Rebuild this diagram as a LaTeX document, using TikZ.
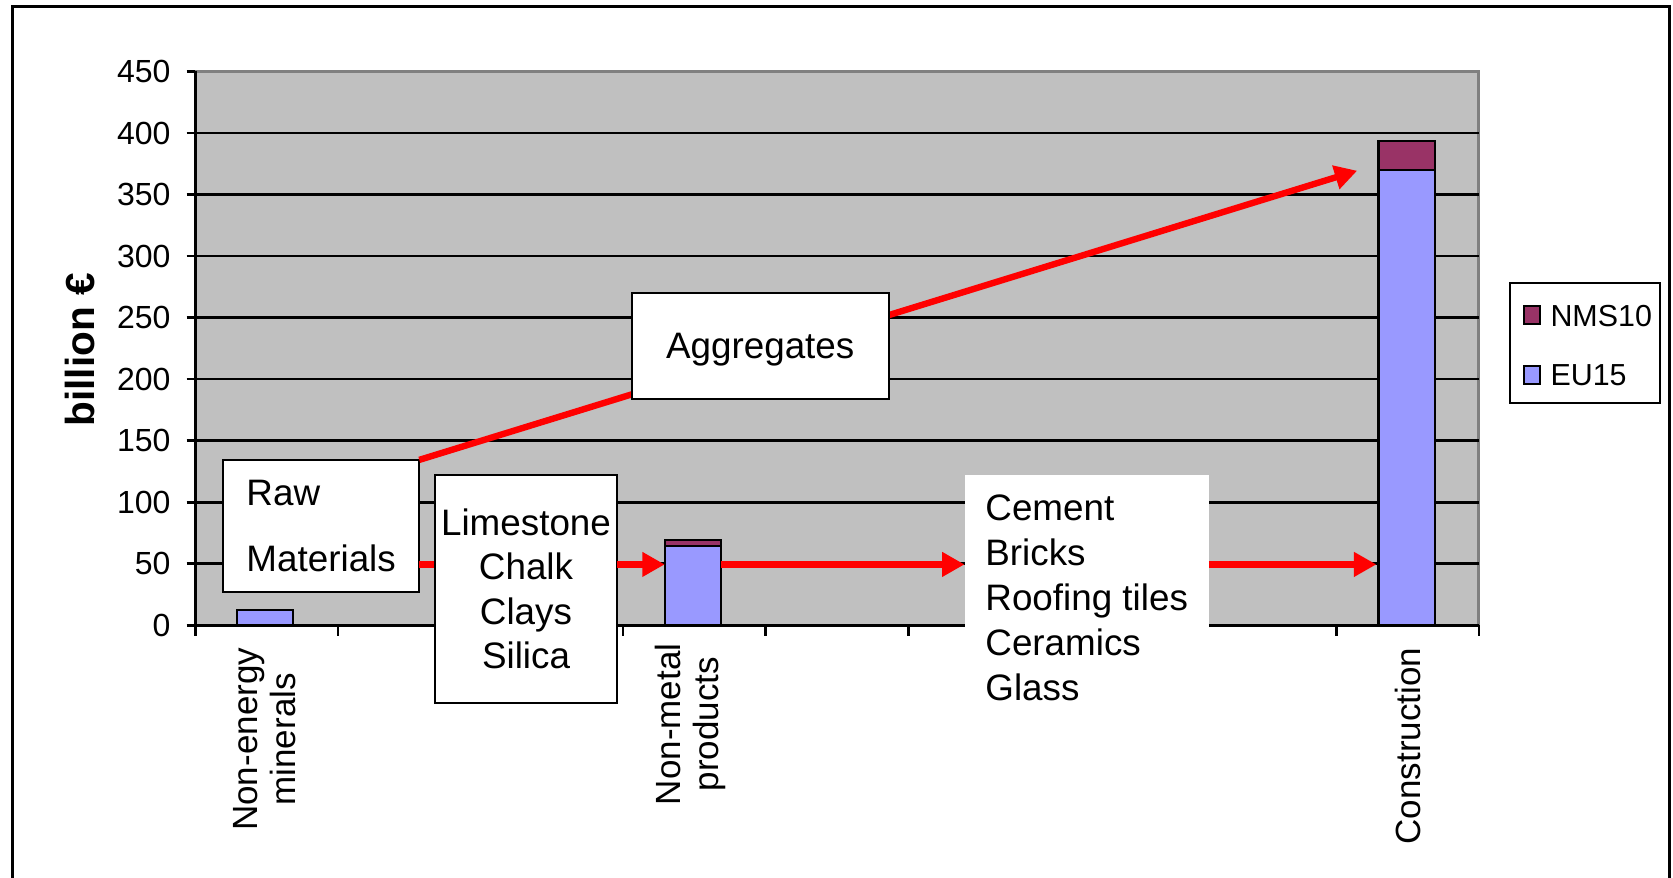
\documentclass[tikz,border=0pt]{standalone}
\usepackage{fontspec}
\setmainfont{Liberation Sans}
\usetikzlibrary{arrows.meta}
\definecolor{plotgrey}{HTML}{C0C0C0}
\definecolor{euc}{HTML}{9999FF}
\definecolor{nmsc}{HTML}{993366}
\definecolor{redc}{HTML}{FF0000}
\begin{document}
\begin{tikzpicture}[x=1pt,y=-1pt,
 box/.style={draw=black, line width=2pt, fill=white, inner sep=0pt, outer sep=0pt, font=\fontsize{34.5}{41.7}\selectfont},
 plainbox/.style={fill=white, inner sep=0pt, outer sep=0pt, font=\fontsize{34.5}{42.3}\selectfont},
 gridline/.style={line width=2.5pt},
 redline/.style={draw=redc, line width=6pt},
 redarrow/.style={redline, -{Triangle[length=21pt,width=22pt]}},
 bar/.style={draw=black, line width=2pt, inner sep=0pt, outer sep=0pt, minimum width=53pt, anchor=south},
 ticklab/.style={anchor=east, inner sep=0pt, font=\fontsize{30}{36}\selectfont},
 catlab/.style={rotate=90, anchor=east, align=center, inner sep=0pt, font=\fontsize{32.8}{35}\selectfont},
 leglab/.style={anchor=west, inner sep=0pt, font=\fontsize{28.5}{34}\selectfont},
 legsq/.style={draw=black, line width=2pt, inner sep=0pt, minimum width=15pt, minimum height=17pt}
]
\useasboundingbox (0,0) rectangle (1568,822);
% outer frame
\draw[line width=2.5pt] (12,830) -- (12,6) -- (1565,6) -- (1565,830);
% plot area
\fill[plotgrey] (183,67) rectangle (1386,586);
\draw[gray, line width=2.5pt] (183,67) -- (1386,67) -- (1386,586);
\foreach \v in {50,100,...,400} {
  \pgfmathsetmacro\yy{586-\v*1.153333}
  \draw[gridline] (183,\yy) -- (1386,\yy);
}
\draw[gridline] (183,67) -- (183,586) -- (1386,586);
\foreach \v in {0,50,...,450} {
  \pgfmathsetmacro\yy{586-\v*1.153333}
  \draw[gridline] (175,\yy) -- (183,\yy);
  \node[ticklab] (yl\v) at (160,\yy) {\v};
}
\foreach \k in {0,...,9} {
  \pgfmathsetmacro\xx{183+\k*133.667}
  \draw[gridline] (\xx,586) -- (\xx,596);
}
% bars
\node[bar, fill=euc, minimum height=14pt] (neEU) at (248.5,586) {};
\node[bar, fill=euc, minimum height=74pt] (nmEU) at (649.5,586) {};
\node[bar, fill=nmsc, minimum height=6pt] (nmNMS) at (nmEU.north) {};
\node[bar, fill=euc, minimum height=427pt] (coEU) at (1318.5,586) {};
\node[bar, fill=nmsc, minimum height=27pt] (coNMS) at (coEU.north) {};
% boxes
\coordinate (y50) at (0,529);
\coordinate (tip) at (1272,160);
\node[box, minimum width=184pt, minimum height=124pt, align=left] (raw) at (301,493) {Raw\\[21pt]Materials};
% red connectors (behind the other boxes)
\draw[redarrow] (raw.north east) -- (tip);
\draw[redline] (raw.east |- y50) -- (408,529) coordinate (limeW);
\node[box, minimum width=170pt, minimum height=213pt, align=center] (lime) at (493,552) {Limestone\\Chalk\\Clays\\Silica};
\node[box, minimum width=241pt, minimum height=99pt, text depth=0pt] (agg) at (712.5,324.5) {Aggregates};
\node[plainbox, minimum width=229pt, minimum height=231pt, align=left] (cem) at (1018.5,560.5) {Cement\\Bricks\\Roofing tiles\\Ceramics\\Glass};
\draw[redarrow] (lime.east |- y50) -- (nmEU.west |- y50);
\draw[redarrow] (nmEU.east |- y50) -- (cem.west |- y50);
\draw[redarrow] (cem.east |- y50) -- ([xshift=-2pt]coEU.west |- y50);
% legend
\node[draw=black, line width=2pt, fill=white, inner sep=0pt, minimum width=141pt, minimum height=113pt] (legend) at (1485.5,321.5) {};
\node[legsq, fill=nmsc] (sqN) at (1435.5,295.5) {};
\node[legsq, fill=euc] (sqE) at (1435.5,351.5) {};
\node[leglab] (lN) at (1453,296) {NMS10};
\node[leglab] (lE) at (1453,352) {EU15};
% axis labels
\node[rotate=90, inner sep=0pt, font=\fontsize{38}{44}\selectfont\bfseries] (ylab) at (75,328) {billion €};
\node[catlab] (cat1) at (248,607) {Non-energy\\minerals};
\node[catlab] (cat2) at (647,603) {Non-metal\\products};
\node[catlab] (cat3) at (1320,607) {Construction};
\end{tikzpicture}
\end{document}
